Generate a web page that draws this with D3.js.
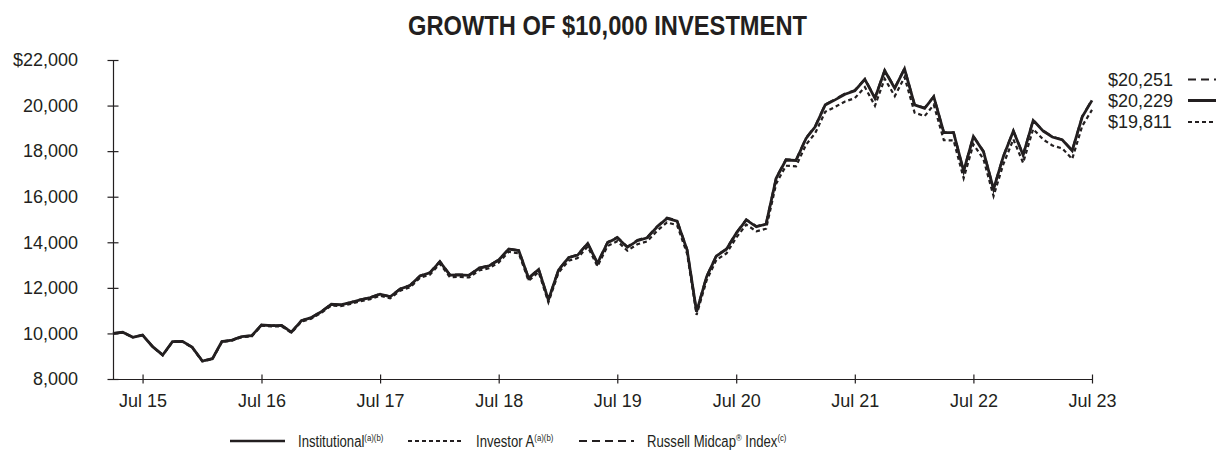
<!DOCTYPE html>
<html>
<head>
<meta charset="utf-8">
<script src="https://cdn.jsdelivr.net/npm/d3@7"></script>
<style>
  html, body { margin: 0; padding: 0; background: #fff; }
  svg { display: block; }
  text { fill: #231f20; }
</style>
</head>
<body>
<svg id="chart" width="1216" height="451"></svg>
<script>
// ---------- DATA ----------
const startMonth = "2015-04";
const endMonth = "2023-07";

const institutional = [
  10000, 10050, 9830, 9930, 9420, 9050, 9640, 9650, 9390, 8790,
  8890, 9640, 9710, 9860, 9900, 10370, 10340, 10350, 10060, 10560,
  10690, 10950, 11280, 11250, 11350, 11470, 11570, 11720, 11610, 11950,
  12100, 12520, 12660, 13150, 12560, 12570, 12550, 12860, 12960, 13220,
  13700, 13630, 12420, 12810, 11470, 12780, 13320, 13440, 13950, 13080,
  13980, 14200, 13780, 14070, 14200, 14680, 15050, 14930, 13660, 10950,
  12490, 13400, 13690, 14390, 14980, 14680, 14800, 16810, 17610, 17590,
  18560, 19070, 20030, 20250, 20500, 20650, 21150, 20320, 21530, 20760,
  21610, 20030, 19880, 20390, 18810, 18810, 17120, 18640, 17980, 16330,
  17760, 18880, 17830, 19350, 18880, 18620, 18490, 18020, 19510, 20229
];

const investorA = [
  10000, 10048, 9826, 9924, 9412, 9040, 9628, 9636, 9374, 8773,
  8871, 9618, 9686, 9833, 9871, 10337, 10305, 10313, 10022, 10518,
  10645, 10902, 11228, 11196, 11293, 11410, 11507, 11654, 11542, 11877,
  12024, 12438, 12575, 13059, 12470, 12478, 12455, 12760, 12857, 13112,
  13585, 13513, 12310, 12694, 11364, 12659, 13191, 13307, 13809, 12945,
  13833, 14048, 13630, 13914, 14039, 14510, 14873, 14751, 13494, 10814,
  12333, 13228, 13512, 14200, 14779, 14480, 14595, 16573, 17359, 17335,
  18287, 18786, 19727, 19940, 20181, 20325, 20812, 19991, 21177, 20415,
  21247, 19689, 19538, 20035, 18478, 18474, 16811, 18299, 17648, 16025,
  17424, 18519, 17486, 18972, 18507, 18249, 18117, 17653, 19109, 19811
];

const russellMidcap = [
  10000, 10055, 9836, 9935, 9425, 9056, 9645, 9656, 9396, 8795,
  8896, 9646, 9716, 9866, 9906, 10377, 10347, 10357, 10068, 10567,
  10705, 10965, 11295, 11266, 11366, 11486, 11586, 11736, 11626, 11966,
  12116, 12536, 12676, 13166, 12576, 12586, 12566, 12876, 12976, 13236,
  13716, 13646, 12436, 12826, 11486, 12796, 13336, 13456, 13966, 13096,
  14005, 14225, 13805, 14095, 14225, 14705, 15075, 14955, 13685, 10975,
  12515, 13425, 13715, 14415, 15005, 14705, 14825, 16835, 17635, 17615,
  18585, 19095, 20055, 20275, 20525, 20675, 21175, 20345, 21555, 20785,
  21630, 20050, 19900, 20410, 18830, 18830, 17140, 18660, 18000, 16350,
  17780, 18900, 17850, 19370, 18900, 18640, 18510, 18040, 19530, 20251
];

const yTickValues = [8000, 10000, 12000, 14000, 16000, 18000, 20000, 22000];
const yTickLabels = ["8,000", "10,000", "12,000", "14,000", "16,000", "18,000", "20,000", "$22,000"];
const xTickMonths = ["2015-07", "2016-07", "2017-07", "2018-07", "2019-07", "2020-07", "2021-07", "2022-07", "2023-07"];
const xTickLabels = ["Jul 15", "Jul 16", "Jul 17", "Jul 18", "Jul 19", "Jul 20", "Jul 21", "Jul 22", "Jul 23"];

const endLabels = ["$20,251", "$20,229", "$19,811"];
const seriesNames = ["Institutional", "Investor A", "Russell Midcap"];

// ---------- SETUP ----------
const parseMonth = d3.timeParse("%Y-%m");
const months = d3.timeMonth.range(parseMonth(startMonth), d3.timeMonth.offset(parseMonth(endMonth), 1));

const ink = "#231f20";
const svg = d3.select("#chart");
const plotLeft = 113, plotRight = 1092, plotTop = 60, plotBottom = 379;

const x = d3.scaleTime().domain([parseMonth(startMonth), parseMonth(endMonth)]).range([plotLeft, plotRight]);
const y = d3.scaleLinear().domain([8000, 22000]).range([plotBottom, plotTop]);

// Title
svg.append("text")
  .attr("x", 607.5).attr("y", 35)
  .attr("text-anchor", "middle")
  .attr("font-family", "'Liberation Sans', Arial, sans-serif")
  .attr("font-weight", "bold")
  .attr("font-size", 27.5)
  .attr("textLength", 399)
  .attr("lengthAdjust", "spacingAndGlyphs")
  .text("GROWTH OF $10,000 INVESTMENT");

// Y axis
const yAxis = d3.axisLeft(y)
  .tickValues(yTickValues)
  .tickFormat((d, i) => yTickLabels[i])
  .tickSizeInner(5.5).tickSizeOuter(0).tickPadding(30);
const yg = svg.append("g").attr("transform", `translate(${plotLeft},0)`).call(yAxis);
yg.selectAll(".tick line").attr("x1", -5.5).attr("x2", 5.5).attr("stroke", ink).attr("stroke-width", 1.2);
yg.select(".domain").attr("stroke", ink).attr("stroke-width", 1.2);
yg.selectAll(".tick text")
  .attr("font-family", "'Liberation Sans', Arial, sans-serif")
  .attr("font-size", 18).attr("fill", ink).attr("x", -35);

// X axis
const xAxis = d3.axisBottom(x)
  .tickValues(xTickMonths.map(parseMonth))
  .tickFormat((d, i) => xTickLabels[i])
  .tickSizeInner(4.5).tickSizeOuter(0).tickPadding(10);
const xg = svg.append("g").attr("transform", `translate(0,${plotBottom})`).call(xAxis);
xg.selectAll(".tick line").attr("y1", -4.5).attr("y2", 4.5).attr("stroke", ink).attr("stroke-width", 1.2);
xg.select(".domain").attr("stroke", ink).attr("stroke-width", 1.2);
xg.selectAll(".tick text")
  .attr("font-family", "'Liberation Sans', Arial, sans-serif")
  .attr("font-size", 18).attr("fill", ink).attr("dy", "0.71em").attr("y", 15);

// Lines
const line = d3.line().x((d, i) => x(months[i])).y(d => y(d)).curve(d3.curveLinear);
const styles = {
  inst: { dash: null, width: 2.8 },
  invA: { dash: "4,3", width: 2.2 },
  russ: { dash: "8,5", width: 2.2 }
};
svg.append("path").datum(russellMidcap).attr("d", line)
  .attr("fill", "none").attr("stroke", ink).attr("stroke-width", styles.russ.width)
  .attr("stroke-dasharray", styles.russ.dash).attr("stroke-linejoin", "miter");
svg.append("path").datum(investorA).attr("d", line)
  .attr("fill", "none").attr("stroke", ink).attr("stroke-width", styles.invA.width)
  .attr("stroke-dasharray", styles.invA.dash).attr("stroke-linejoin", "miter");
svg.append("path").datum(institutional).attr("d", line)
  .attr("fill", "none").attr("stroke", ink).attr("stroke-width", styles.inst.width)
  .attr("stroke-linejoin", "miter");

// End labels (right)
const endRows = [
  { label: endLabels[0], style: styles.russ, yPos: 79.5 },
  { label: endLabels[1], style: styles.inst, yPos: 100.5 },
  { label: endLabels[2], style: styles.invA, yPos: 122 }
];
endRows.forEach(r => {
  svg.append("text").attr("x", 1108).attr("y", r.yPos).attr("dy", "0.35em")
    .attr("font-family", "'Liberation Sans', Arial, sans-serif").attr("font-size", 18)
    .text(r.label);
  svg.append("line").attr("x1", 1188).attr("x2", 1230).attr("y1", r.yPos).attr("y2", r.yPos)
    .attr("stroke", ink).attr("stroke-width", r.style.width)
    .attr("stroke-dasharray", r.style.dash);
});

// Legend
const legFont = "'Liberation Sans', Arial, sans-serif";
const legY = 441;
const legItems = [
  { x1: 230, x2: 285, tx: 298, name: seriesNames[0], sup: "(a)(b)", style: styles.inst, reg: false },
  { x1: 408, x2: 463, tx: 476, name: seriesNames[1], sup: "(a)(b)", style: styles.invA, reg: false },
  { x1: 579, x2: 634, tx: 647, name: seriesNames[2], sup: "(c)", style: styles.russ, reg: true }
];
legItems.forEach(it => {
  svg.append("line").attr("x1", it.x1).attr("x2", it.x2).attr("y1", legY).attr("y2", legY)
    .attr("stroke", ink).attr("stroke-width", it.style.width - 0.3)
    .attr("stroke-dasharray", it.style.dash);
  const t = svg.append("text")
    .attr("transform", `translate(${it.tx},${legY + 6}) scale(0.82,1)`)
    .attr("font-family", legFont).attr("font-size", 16);
  t.append("tspan").text(it.name);
  if (it.reg) {
    t.append("tspan").attr("font-size", 9.5).attr("dy", -6).text("®");
    t.append("tspan").attr("font-size", 16).attr("dy", 6).text(" Index");
  }
  t.append("tspan").attr("font-size", 9.5).attr("dy", -6.5).text(it.sup);
});
</script>
</body>
</html>
